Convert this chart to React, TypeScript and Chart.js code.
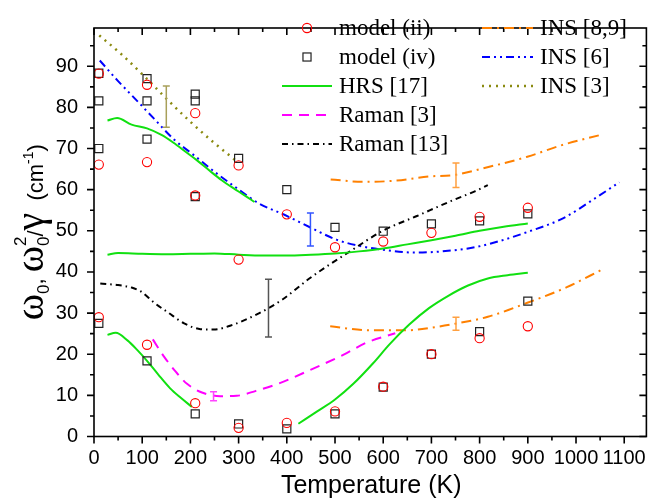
import React, { useEffect, useRef } from 'react';
import { Chart, registerables } from 'chart.js';
Chart.register(...registerables);

// ---------- axes ----------
const X_MIN = 0;
const X_MAX = 1146;
const Y_MIN = 0;
const Y_MAX = 99.3;
const xTicks = [0, 100, 200, 300, 400, 500, 600, 700, 800, 900, 1000, 1100];
const yTicks = [0, 10, 20, 30, 40, 50, 60, 70, 80, 90];

// ---------- model points ----------
const modelIIT = [10, 10, 10, 110, 110, 110, 210, 210, 210, 300, 300, 300, 400, 400, 500, 500, 600, 600, 700, 700, 800, 800, 900, 900];
const modelIIV = [88.2, 66.1, 29.0, 85.5, 66.7, 22.3, 78.6, 58.6, 8.1, 65.9, 43.0, 2.1, 54.0, 3.3, 46.0, 6.1, 47.4, 12.1, 49.5, 20.0, 53.4, 23.9, 55.6, 26.8];

const modelIVT = [10, 10, 10, 10, 110, 110, 110, 110, 210, 210, 210, 210, 300, 300, 400, 400, 500, 500, 600, 600, 700, 700, 800, 800, 900, 900];
const modelIVV = [88.3, 81.6, 70.0, 27.5, 87.0, 81.6, 72.3, 18.4, 83.2, 81.6, 58.3, 5.5, 67.6, 3.05, 60.0, 1.85, 50.85, 5.5, 49.9, 12.0, 51.7, 20.0, 52.4, 25.5, 54.1, 32.9];

// ---------- HRS [17] ----------
const hrsUpperT = [28, 48, 78, 110, 140, 165, 190, 215, 240, 265, 290, 310, 333];
const hrsUpperV = [76.8, 77.4, 75.8, 74.9, 73.3, 71.4, 69.2, 67.0, 64.6, 62.3, 60.3, 58.8, 57.0];
const hrsMidT = [28, 50, 100, 150, 200, 250, 300, 350, 400, 450, 500, 550, 600, 650, 700, 750, 800, 850, 900];
const hrsMidV = [44.2, 44.6, 44.4, 44.3, 44.4, 44.5, 44.2, 44.0, 44.0, 44.2, 44.5, 45.0, 45.7, 46.7, 47.7, 48.8, 50.0, 51.0, 51.8];
const hrsLowLeftT = [28, 45, 70, 90, 110, 133, 158, 180, 203];
const hrsLowLeftV = [24.7, 25.2, 23.3, 21.0, 18.4, 15.1, 11.7, 9.4, 7.2];
const hrsLowRightT = [424, 463, 500, 538, 579, 613, 654, 695, 735, 776, 817, 858, 900];
const hrsLowRightV = [3.1, 6.1, 9.0, 12.8, 17.8, 22.4, 27.2, 31.2, 34.2, 36.7, 38.4, 39.2, 39.8];

// ---------- Raman ----------
const raman3T = [122, 146, 170, 193, 224, 262, 296, 336, 384, 449, 518, 565, 625];
const raman3V = [23.6, 19.3, 15.7, 12.8, 10.7, 9.8, 9.9, 11.1, 12.9, 16.2, 19.9, 22.8, 25.1];
const raman13T = [13, 50, 78, 98, 125, 153, 187, 221, 248, 289, 343, 391, 449, 531, 599, 670, 740, 790, 817];
const raman13V = [37.2, 36.8, 36.2, 35.2, 32.5, 30.2, 27.5, 26.1, 26.0, 27.2, 30.0, 33.3, 38.6, 45.0, 50.0, 53.6, 57.2, 59.6, 61.1];

// ---------- INS ----------
const ins89UpperT = [491, 559, 627, 695, 749, 804, 899, 967, 1057];
const ins89UpperV = [62.5, 61.9, 62.2, 63.2, 63.6, 65.1, 68.0, 70.7, 73.5];
const ins89LowerT = [490, 572, 647, 708, 749, 817, 899, 981, 1056];
const ins89LowerV = [26.8, 25.8, 25.8, 26.6, 27.4, 29.1, 32.5, 36.3, 40.7];
const ins6T = [12, 50, 91, 125, 166, 207, 255, 296, 343, 395, 449, 504, 552, 606, 667, 722, 790, 838, 899, 974, 1042, 1090];
const ins6V = [91.4, 86.4, 81.4, 77.2, 72.2, 68.4, 63.9, 60.4, 56.6, 53.9, 50.8, 47.8, 46.3, 45.3, 44.7, 45.0, 46.0, 47.4, 49.7, 53.1, 58.1, 61.8];
const ins3T = [11, 57, 105, 153, 200, 248, 295];
const ins3V = [97.5, 92.9, 87.5, 81.8, 76.5, 71.5, 67.0];

// ---------- error bars ----------
const errT = [150, 449, 362, 248, 751, 751];
const errV = [80.2, 50.3, 31.2, 9.8, 63.5, 27.4];
const errD = [5.0, 4.0, 7.0, 1.1, 3.0, 1.6];
const errColors = ['#a8a05a', '#3355ff', '#555555', '#ff44ff', '#ffa040', '#ffa040'];

const zip = (t: number[], v: number[]) => t.map((x, i) => ({ x, y: v[i] }));

const GREEN = '#11e011';
const MAGENTA = '#ff00ff';
const BLACK = '#000000';
const ORANGE = '#ff8000';
const BLUE = '#0000ff';
const OLIVE = '#8a8a10';

const lineDs = (label: string, data: any, color: string, dash: number[], width = 2) => ({
  label,
  data,
  showLine: true,
  borderColor: color,
  backgroundColor: color,
  borderWidth: width,
  borderDash: dash,
  pointRadius: 0,
  pointHoverRadius: 0,
  fill: false,
  cubicInterpolationMode: 'monotone' as const,
});

// legend: dataset index, column, row
const legendItems = [
  { ds: 0, col: 0, row: 0, label: 'model (ii)', kind: 'circle' },
  { ds: 1, col: 0, row: 1, label: 'model (iv)', kind: 'rect' },
  { ds: 2, col: 0, row: 2, label: 'HRS [17]', kind: 'line' },
  { ds: 6, col: 0, row: 3, label: 'Raman [3]', kind: 'line' },
  { ds: 7, col: 0, row: 4, label: 'Raman [13]', kind: 'line' },
  { ds: 8, col: 1, row: 0, label: 'INS [8,9]', kind: 'line' },
  { ds: 10, col: 1, row: 1, label: 'INS [6]', kind: 'line' },
  { ds: 11, col: 1, row: 2, label: 'INS [3]', kind: 'line' },
];

const framePlugin = {
  id: 'frameTicks',
  afterDraw(chart: any) {
    const { ctx, chartArea: a, scales } = chart;
    const xs = scales.x;
    const ys = scales.y;
    ctx.save();
    ctx.strokeStyle = '#000';
    ctx.lineWidth = 1.6;
    ctx.strokeRect(a.left, a.top, a.right - a.left, a.bottom - a.top);
    const MAJ = 7;
    const MIN = 4;
    const xMinor = xTicks.map((v, i) => (i < xTicks.length - 1 ? (v + xTicks[i + 1]) / 2 : v + (v - xTicks[i - 1]) / 2)).filter((v) => v <= X_MAX);
    const yMinor = yTicks.map((v, i) => (i < yTicks.length - 1 ? (v + yTicks[i + 1]) / 2 : v + (v - yTicks[i - 1]) / 2)).filter((v) => v <= Y_MAX);
    ctx.beginPath();
    const xt = (v: number, len: number) => {
      const p = xs.getPixelForValue(v);
      ctx.moveTo(p, a.bottom);
      ctx.lineTo(p, a.bottom + len);
      ctx.moveTo(p, a.top);
      ctx.lineTo(p, a.top + len);
    };
    const yt = (v: number, len: number) => {
      const p = ys.getPixelForValue(v);
      ctx.moveTo(a.left, p);
      ctx.lineTo(a.left - len, p);
      ctx.moveTo(a.right, p);
      ctx.lineTo(a.right - len, p);
    };
    xTicks.forEach((v) => xt(v, MAJ));
    xMinor.forEach((v) => xt(v, MIN));
    yTicks.forEach((v) => yt(v, MAJ));
    yMinor.forEach((v) => yt(v, MIN));
    ctx.stroke();

    // x title
    ctx.fillStyle = '#000';
    ctx.font = "25px 'Liberation Sans', Arial, sans-serif";
    ctx.textAlign = 'center';
    ctx.textBaseline = 'alphabetic';
    ctx.fillText('Temperature (K)', (a.left + a.right) / 2 + 1, 493);

    // y title (rotated, with sub/superscripts)
    const omegaFont = "40px 'Liberation Serif', serif";
    const smallFont = "17px 'Liberation Sans', Arial, sans-serif";
    const mainFont = "22px 'Liberation Sans', Arial, sans-serif";
    const supFont = "14px 'Liberation Sans', Arial, sans-serif";
    type Part = { t: string; f: string; dy: number; t2?: string; dy2?: number };
    const parts: Part[] = [
      { t: 'ω', f: omegaFont, dy: 0 },
      { t: '0', f: smallFont, dy: 6 },
      { t: ', ', f: mainFont, dy: 0 },
      { t: 'ω', f: omegaFont, dy: 0 },
      { t: '2', f: smallFont, dy: -17, t2: '0', dy2: 6 },
      { t: '/', f: mainFont, dy: 0 },
      { t: 'γ', f: omegaFont, dy: 0 },
      { t: '  (cm', f: mainFont, dy: 0 },
      { t: '-1', f: supFont, dy: -10 },
      { t: ')', f: mainFont, dy: 0 },
    ];
    const widths = parts.map((p) => {
      ctx.font = p.f;
      let w = ctx.measureText(p.t).width;
      if (p.t2) w = Math.max(w, ctx.measureText(p.t2).width);
      return w;
    });
    const total = widths.reduce((s, w) => s + w, 0);
    ctx.translate(43, (a.top + a.bottom) / 2);
    ctx.rotate(-Math.PI / 2);
    ctx.textAlign = 'left';
    let x = -total / 2;
    parts.forEach((p, i) => {
      ctx.font = p.f;
      ctx.fillText(p.t, x, p.dy);
      if (p.t2) ctx.fillText(p.t2, x, p.dy2 || 0);
      x += widths[i];
    });
    ctx.restore();
  },
};

const errorBarPlugin = {
  id: 'errorBars',
  afterDatasetsDraw(chart: any) {
    const { ctx, scales } = chart;
    ctx.save();
    ctx.lineWidth = 1.5;
    errT.forEach((t, i) => {
      const px = scales.x.getPixelForValue(t);
      const top = scales.y.getPixelForValue(errV[i] + errD[i]);
      const bot = scales.y.getPixelForValue(errV[i] - errD[i]);
      ctx.strokeStyle = errColors[i];
      ctx.beginPath();
      ctx.moveTo(px, top);
      ctx.lineTo(px, bot);
      ctx.moveTo(px - 3.5, top);
      ctx.lineTo(px + 3.5, top);
      ctx.moveTo(px - 3.5, bot);
      ctx.lineTo(px + 3.5, bot);
      ctx.stroke();
    });
    ctx.restore();
  },
};

const legendPlugin = {
  id: 'customLegend',
  afterDraw(chart: any) {
    const ctx = chart.ctx;
    const cols = [
      { x0: 282, x1: 332, tx: 339 },
      { x0: 482, x1: 533, tx: 540 },
    ];
    ctx.save();
    legendItems.forEach((it) => {
      const ds = chart.data.datasets[it.ds];
      const c = cols[it.col];
      const base = 35 + it.row * 29;
      const ly = base - 7;
      if (it.kind === 'line') {
        ctx.strokeStyle = ds.borderColor;
        ctx.lineWidth = ds.borderWidth;
        ctx.setLineDash(ds.borderDash || []);
        ctx.beginPath();
        ctx.moveTo(c.x0, ly);
        ctx.lineTo(c.x1, ly);
        ctx.stroke();
        ctx.setLineDash([]);
      } else if (it.kind === 'circle') {
        ctx.strokeStyle = ds.borderColor;
        ctx.lineWidth = ds.borderWidth;
        ctx.beginPath();
        ctx.arc((c.x0 + c.x1) / 2, ly, ds.pointRadius, 0, Math.PI * 2);
        ctx.stroke();
      } else {
        const s = ds.pointRadius * Math.SQRT1_2;
        ctx.strokeStyle = ds.borderColor;
        ctx.lineWidth = ds.borderWidth;
        ctx.strokeRect((c.x0 + c.x1) / 2 - s, ly - s, 2 * s, 2 * s);
      }
      ctx.fillStyle = '#000';
      ctx.font = "23px 'Liberation Serif', 'Times New Roman', serif";
      ctx.textAlign = 'left';
      ctx.textBaseline = 'alphabetic';
      ctx.fillText(it.label, c.tx, base);
    });
    ctx.restore();
  },
};

export default function App() {
  const ref = useRef<HTMLCanvasElement | null>(null);
  useEffect(() => {
    if (!ref.current) return;
    Chart.defaults.font.family = "'Liberation Sans', Arial, sans-serif";
    const chart = new Chart(ref.current, {
      type: 'scatter',
      data: {
        datasets: [
          {
            label: 'model (ii)',
            data: zip(modelIIT, modelIIV),
            pointStyle: 'circle',
            pointRadius: 4.6,
            borderColor: '#ff0000',
            backgroundColor: 'rgba(0,0,0,0)',
            borderWidth: 1.1,
          } as any,
          {
            label: 'model (iv)',
            data: zip(modelIVT, modelIVV),
            pointStyle: 'rect',
            pointRadius: 5.7,
            borderColor: '#222222',
            backgroundColor: 'rgba(0,0,0,0)',
            borderWidth: 1.2,
          } as any,
          lineDs('HRS [17]', zip(hrsUpperT, hrsUpperV), GREEN, []),
          lineDs('HRS [17] b', zip(hrsMidT, hrsMidV), GREEN, []),
          lineDs('HRS [17] c', zip(hrsLowLeftT, hrsLowLeftV), GREEN, []),
          lineDs('HRS [17] d', zip(hrsLowRightT, hrsLowRightV), GREEN, []),
          lineDs('Raman [3]', zip(raman3T, raman3V), MAGENTA, [10, 7]),
          lineDs('Raman [13]', zip(raman13T, raman13V), BLACK, [6, 4, 1.5, 4]),
          lineDs('INS [8,9]', zip(ins89UpperT, ins89UpperV), ORANGE, [10, 5, 2, 5]),
          lineDs('INS [8,9] b', zip(ins89LowerT, ins89LowerV), ORANGE, [10, 5, 2, 5]),
          lineDs('INS [6]', zip(ins6T, ins6V), BLUE, [8, 4, 2, 4, 2, 4]),
          lineDs('INS [3]', zip(ins3T, ins3V), OLIVE, [2, 5], 2.5),
        ],
      },
      options: {
        responsive: false,
        animation: false,
        layout: { padding: { top: 4, right: 2, left: 0, bottom: 0 } },
        plugins: { legend: { display: false }, tooltip: { enabled: false } },
        scales: {
          x: {
            type: 'linear',
            min: X_MIN,
            max: X_MAX,
            afterBuildTicks: (s: any) => {
              s.ticks = xTicks.map((v) => ({ value: v }));
            },
            afterFit: (s: any) => {
              s.height = 64.5;
            },
            grid: { display: false, drawTicks: false },
            border: { display: false },
            ticks: {
              padding: 10,
              font: { size: 20 },
              color: '#000',
              maxRotation: 0,
              autoSkip: false,
              callback: (v: any) => String(v),
            },
          },
          y: {
            type: 'linear',
            min: Y_MIN,
            max: Y_MAX,
            afterBuildTicks: (s: any) => {
              s.ticks = yTicks.map((v) => ({ value: v }));
            },
            afterFit: (s: any) => {
              s.width = 94;
            },
            grid: { display: false, drawTicks: false },
            border: { display: false },
            ticks: { padding: 16, font: { size: 20 }, color: '#000', autoSkip: false, callback: (v: any) => String(v) },
          },
        },
      },
      plugins: [errorBarPlugin, framePlugin, legendPlugin],
    });
    return () => chart.destroy();
  }, []);
  return (
    <div style={{ position: 'fixed', left: 0, top: 0, width: 656, height: 501, background: '#fff' }}>
      <canvas ref={ref} width={656} height={501} />
    </div>
  );
}
